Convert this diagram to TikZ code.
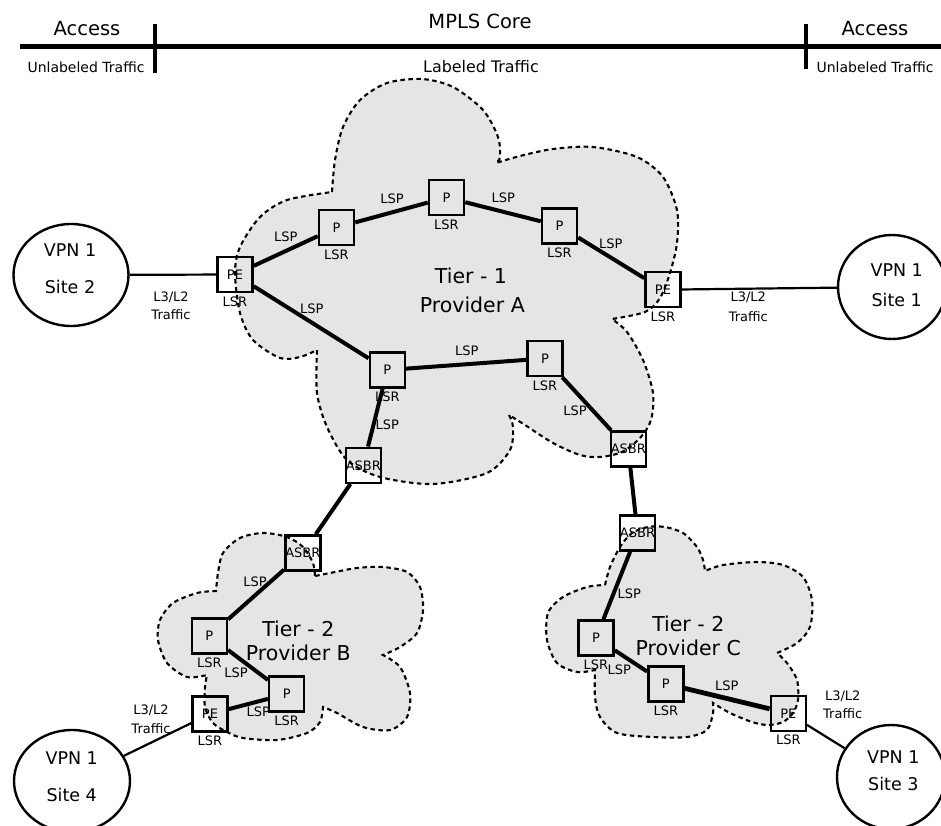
\documentclass[tikz,border=0pt]{standalone}
\usepackage{fontspec}
\setmainfont{DejaVu Sans}
\usetikzlibrary{shapes.geometric}
\tikzset{
  cloud/.style={fill=gray!20, draw=black, line width=2.1pt, dash pattern=on 4.5pt off 3.5pt},
  router/.style={draw=black, line width=2.5pt, minimum size=35pt, inner sep=0pt, font=\fontsize{13}{15}\selectfont},
  lsr/.style={label={[label distance=2pt, inner sep=1pt, font=\fontsize{13}{15}\selectfont]below:LSR}},
  link/.style={line width=4pt},
  thinlink/.style={line width=2.2pt},
  site/.style={draw=black, ellipse, line width=2.4pt, inner sep=0pt},
  small/.style={inner sep=0pt, font=\fontsize{13}{15}\selectfont},
  big/.style={inner sep=0pt, font=\fontsize{19.5}{22}\selectfont},
  tier/.style={inner sep=0pt, font=\fontsize{20.5}{24}\selectfont},
  vpn/.style={inner sep=0pt, font=\fontsize{17.5}{20}\selectfont},
  bar/.style={line width=4.8pt},
  tick/.style={line width=3.2pt}
}
\begin{document}
\begin{tikzpicture}[x=1pt,y=-1pt]
\useasboundingbox (0,0) rectangle (941,826);

% ---------- top bar ----------
\coordinate (barL) at (20,46.5);
\coordinate (barR) at (941,46.5);
\coordinate (tickLa) at (155,24);
\coordinate (tickLb) at (155,73);
\coordinate (tickRa) at (806,24);
\coordinate (tickRb) at (806,69);
\draw[bar] (barL) -- (barR);
\draw[tick] (tickLa) -- (tickLb);
\draw[tick] (tickRa) -- (tickRb);
\node[big] (accL) at (87,29) {Access};
\node[big] (mpls) at (480,21) {MPLS Core};
\node[big] (accR) at (875,29) {Access};
\node[inner sep=0pt, font=\fontsize{14}{16}\selectfont] (unlL) at (86,67) {Unlabeled Traffic};
\node[inner sep=0pt, font=\fontsize{15.9}{18}\selectfont] (lab) at (481,67) {Labeled Traffic};
\node[inner sep=0pt, font=\fontsize{14}{16}\selectfont] (unlR) at (875,67) {Unlabeled Traffic};

% ---------- clouds ----------
\filldraw[cloud]
  plot[smooth] coordinates {(332,192) (335,160) (343,127) (360,100) (387,83) (422,79) (453,87) (483,110) (498,137) (500,157) (496,163)}
  -- plot[smooth] coordinates {(496,163) (520,156) (553,149) (593,147) (637,157) (663,177) (677,210) (677,243) (670,273) (660,298) (645,312) (612,319)}
  -- plot[smooth] coordinates {(612,319) (627,332) (643,360) (653,393) (651,420) (640,438) (622,452) (600,457) (580,455) (553,443) (525,425) (509,415)}
  -- plot[smooth] coordinates {(509,415) (513,427) (510,450) (487,473) (433,484) (380,477) (347,460) (327,427) (317,393) (317,350)}
  -- plot[smooth] coordinates {(317,350) (300,357) (280,358) (253,340) (240,313) (235,273) (240,247) (260,217) (287,200) (332,192)}
  -- cycle;

\filldraw[cloud]
  plot[smooth] coordinates {(315,576) (313,563) (303,547) (287,537) (263,533) (240,538) (223,553) (218,573) (216,591)}
  -- plot[smooth] coordinates {(216,591) (197,593) (173,603) (160,620) (158,640) (167,663) (187,677) (207,675)}
  -- plot[smooth] coordinates {(207,675) (205,687) (205,707) (213,723) (227,732) (243,738) (277,740) (307,733) (320,722) (323,707)}
  -- plot[smooth] coordinates {(323,707) (337,713) (363,727) (390,730) (407,717) (410,693) (400,667) (383,655)}
  -- plot[smooth] coordinates {(383,655) (400,647) (417,633) (423,610) (420,587) (407,572) (383,567) (357,568) (330,573) (315,576)}
  -- cycle;

\filldraw[cloud]
  plot[smooth] coordinates {(605,585) (610,567) (620,547) (632,533) (648,527) (665,527) (683,533) (697,547) (703,560) (705,571)}
  -- plot[smooth] coordinates {(705,571) (723,565) (757,562) (783,565) (803,577) (812,600) (810,627) (797,643) (777,653)}
  -- plot[smooth] coordinates {(777,653) (787,663) (797,680) (798,700) (793,713) (783,722) (768,725) (752,722) (730,713) (713,703)}
  -- plot[smooth] coordinates {(713,703) (713,713) (707,730) (687,737) (653,737) (617,733) (600,717) (595,697) (595,670)}
  -- plot[smooth] coordinates {(595,670) (577,672) (557,663) (547,640) (548,613) (563,597) (587,587) (605,585)}
  -- cycle;

% ---------- routers ----------
\node[router, lsr] (PEa) at (235,274.5) {PE};
\node[router, lsr] (P1) at (336.5,227.5) {P};
\node[router, lsr] (P2) at (446.5,197.5) {P};
\node[router, lsr] (P3) at (559.5,226) {P};
\node[router, lsr] (PEr) at (663,289.7) {PE};
\node[router, lsr] (P4) at (387.3,370) {P};
\node[router, lsr] (P5) at (545,358.5) {P};
\node[router] (ASl) at (363.3,465.3) {ASBR};
\node[router] (ASr) at (628.3,449) {ASBR};

\node[router] (ASB) at (302.8,553) {ASBR};
\node[router, lsr] (PB1) at (209.3,636) {P};
\node[router, lsr] (PB2) at (286.7,694) {P};
\node[router, lsr] (PEB) at (210,714) {PE};

\node[router] (ASC) at (637.5,533) {ASBR};
\node[router, lsr] (PC1) at (596,638) {P};
\node[router, lsr] (PC2) at (665.8,683.8) {P};
\node[router, lsr] (PEC) at (788.3,713.3) {PE};

% ---------- sites ----------
\node[site, minimum width=115pt, minimum height=102pt] (S2) at (71,275) {};
\node[site, minimum width=108pt, minimum height=104pt] (S1) at (892,287) {};
\node[site, minimum width=116pt, minimum height=102pt] (S4) at (72,781) {};
\node[site, minimum width=108pt, minimum height=104pt] (S3) at (891,777) {};
\node[vpn] (s2a) at (70,250) {VPN 1};
\node[vpn] (s2b) at (70,287.3) {Site 2};
\node[vpn] (s1a) at (896.7,270) {VPN 1};
\node[vpn] (s1b) at (896.7,300) {Site 1};
\node[vpn] (s4a) at (71.7,758.3) {VPN 1};
\node[vpn] (s4b) at (71.7,795) {Site 4};
\node[vpn] (s3a) at (893.3,757.3) {VPN 1};
\node[vpn] (s3b) at (893.3,784) {Site 3};

% ---------- links ----------
\draw[link] (PEa) -- (P1);
\draw[link] (P1) -- (P2);
\draw[link] (P2) -- (P3);
\draw[link] (P3) -- (PEr);
\draw[link] (PEa) -- (P4);
\draw[link] (P4) -- (P5);
\draw[link] (P5) -- (ASr);
\draw[link] (P4) -- (ASl);
\draw[link] (ASl) -- (ASB);
\draw[link] (ASr) -- (ASC);
\draw[link] (ASB) -- (PB1);
\draw[link] (PB1) -- (PB2);
\draw[link] (PB2) -- (PEB);
\draw[link] (ASC) -- (PC1);
\draw[link] (PC1) -- (PC2);
\draw[link, line width=4.8pt] (PC2) -- (PEC);

\draw[thinlink] (S2) -- (PEa);
\draw[thinlink] (PEr) -- (S1);
\draw[thinlink] (PEB) -- (S4);
\draw[thinlink] (PEC) -- (S3);

% ---------- LSP labels ----------
\node[small] (la1) at (285.7,236.7) {LSP};
\node[small] (la2) at (392,198.3) {LSP};
\node[small] (la3) at (503.3,197.3) {LSP};
\node[small] (la4) at (610.7,244) {LSP};
\node[small] (la5) at (311.7,308.3) {LSP};
\node[small] (la6) at (466.7,351) {LSP};
\node[small] (la7) at (575,411) {LSP};
\node[small] (la8) at (387.3,425) {LSP};
\node[small] (lb1) at (255,581.7) {LSP};
\node[small] (lb2) at (236,672.7) {LSP};
\node[small] (lb3) at (258.3,711.7) {LSP};
\node[small] (lc1) at (629.3,594) {LSP};
\node[small] (lc2) at (619.3,669.3) {LSP};
\node[small] (lc3) at (726.7,685.3) {LSP};

% ---------- traffic labels ----------
\node[small] (t2a) at (171,297) {L3/L2};
\node[small] (t2b) at (171,315) {Traffic};
\node[small] (t1a) at (748.3,297.3) {L3/L2};
\node[small] (t1b) at (748.3,316.7) {Traffic};
\node[small] (t4a) at (151,710.7) {L3/L2};
\node[small] (t4b) at (151,728.3) {Traffic};
\node[small] (t3a) at (842.7,696.7) {L3/L2};
\node[small] (t3b) at (842.7,713.3) {Traffic};

% ---------- tier labels ----------
\node[tier] (ta1) at (471,275.7) {Tier - 1};
\node[tier] (ta2) at (472.3,305) {Provider A};
\node[tier] (tb1) at (298.3,629) {Tier - 2};
\node[tier] (tb2) at (298.3,653.3) {Provider B};
\node[tier] (tc1) at (688.3,624) {Tier - 2};
\node[tier] (tc2) at (688.3,648.3) {Provider C};
\end{tikzpicture}
\end{document}
